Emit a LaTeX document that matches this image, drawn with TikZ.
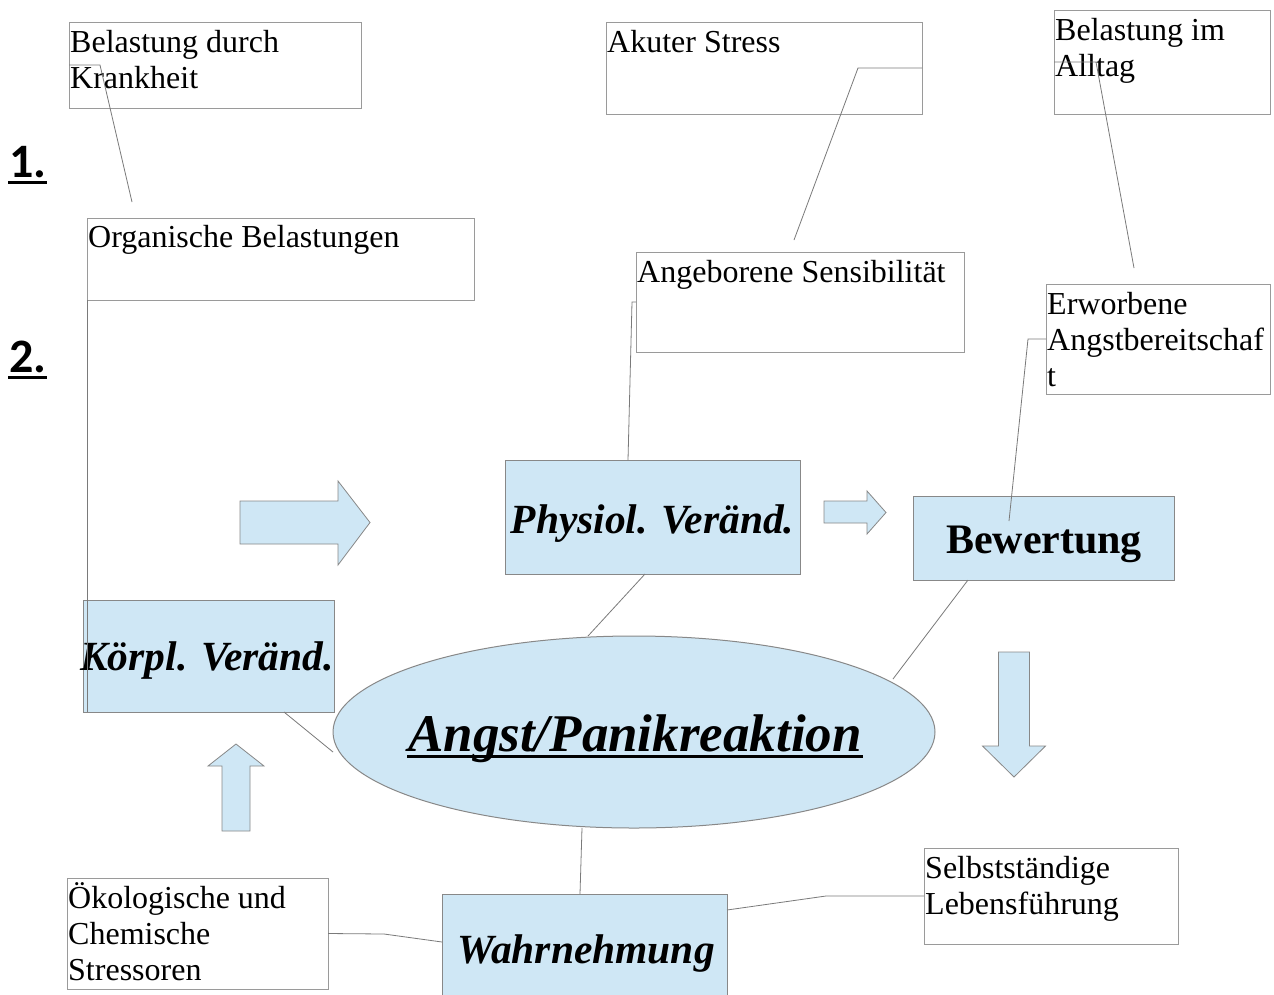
\documentclass[tikz,border=0pt]{standalone}
\usepackage{fontspec}
\setmainfont{Liberation Serif}
\newfontfamily\numfont{Carlito}
\usetikzlibrary{shapes.geometric}
\definecolor{boxfill}{HTML}{CFE7F5}
\definecolor{boxline}{HTML}{9A9A9A}
\definecolor{blueline}{HTML}{888888}
\definecolor{conline}{HTML}{7A7A7A}
\tikzset{
  wbox/.style={draw=boxline, line width=1pt, fill=white, rectangle, inner sep=0pt, outer sep=0pt, anchor=north west},
  bbox/.style={draw=blueline, line width=1pt, fill=boxfill, rectangle, inner sep=0pt, outer sep=0pt, anchor=north west},
  bell/.style={draw=blueline, line width=1pt, fill=boxfill, ellipse, inner sep=0pt, outer sep=0pt},
  txt/.style={inner sep=0pt, anchor=base west, font=\fontsize{32}{36}\selectfont},
  btxt/.style={inner sep=0pt, anchor=base, font=\fontsize{41.5}{48}\selectfont\bfseries\itshape},
  bwtxt/.style={inner sep=0pt, anchor=base, font=\fontsize{42}{48}\selectfont\bfseries},
  bigtxt/.style={inner sep=0pt, anchor=base, font=\fontsize{53}{60}\selectfont\bfseries\itshape},
  numtxt/.style={inner sep=0pt, anchor=base west, font=\fontsize{48}{56}\selectfont\numfont\bfseries},
  con/.style={draw=conline, line width=0.8pt},
  blockarrow/.style={draw=blueline, line width=0.8pt, fill=boxfill, line join=miter},
  uline/.style={line width=3pt, black}
}
\begin{document}
\begin{tikzpicture}[x=1pt, y=-1pt]
\useasboundingbox (0,0) rectangle (1274,994);
\fill[white] (0,0) rectangle (1274,994);

% white boxes
\node[wbox, minimum width=292pt, minimum height=86pt]  (b1)     at (69,22)   {};
\node[wbox, minimum width=387pt, minimum height=82pt]  (org)    at (87,218)  {};
\node[wbox, minimum width=316pt, minimum height=92pt]  (akut)   at (606,22)  {};
\node[wbox, minimum width=216pt, minimum height=104pt] (alltag) at (1054,10) {};
\node[wbox, minimum width=328pt, minimum height=100pt] (angeb)  at (636,252) {};
\node[wbox, minimum width=224pt, minimum height=110pt] (erw)    at (1046,284) {};
\node[wbox, minimum width=261pt, minimum height=111pt] (oeko)   at (67,878)  {};
\node[wbox, minimum width=254pt, minimum height=96pt]  (selbst) at (924,848) {};

% blue boxes
\node[bbox, minimum width=295pt, minimum height=114pt] (phys)  at (505,460) {};
\node[bbox, minimum width=261pt, minimum height=84pt]  (bew)   at (913,496) {};
\node[bbox, minimum width=251pt, minimum height=112pt] (koerp) at (83,600)  {};
\node[bbox, minimum width=285pt, minimum height=110pt] (wahr)  at (442,894) {};
\node[bell, minimum width=602pt, minimum height=192pt] (angst) at (634,732) {};

% block arrows
\draw[blockarrow] (240,501) -- (338,501) -- (338,481) -- (370,522.5) -- (338,565) -- (338,544) -- (240,544) -- cycle;
\draw[blockarrow] (824,501) -- (867,501) -- (867,491) -- (886,512.5) -- (867,534) -- (867,523) -- (824,523) -- cycle;
\draw[blockarrow] (998.5,652) -- (1029.5,652) -- (1029.5,746) -- (1045.5,746) -- (1014,777) -- (982.5,746) -- (998.5,746) -- cycle;
\draw[blockarrow] (236,744) -- (264,766) -- (250,766) -- (250,831) -- (222,831) -- (222,766) -- (208,766) -- cycle;

% texts in white boxes
\node[txt] (b1a) at (70,52) {Belastung durch};
\node[txt] (b1b) at (70,88) {Krankheit};
\node[txt] (orga) at (88,247) {Organische Belastungen};
\node[txt] (akuta) at (607,52) {Akuter Stress};
\node[txt] (alla) at (1055,40) {Belastung im};
\node[txt] (allb) at (1055,76) {Alltag};
\node[txt] (angea) at (637,282) {Angeborene Sensibilität};
\node[txt] (erwa) at (1047,314) {Erworbene};
\node[txt] (erwb) at (1047,350) {Angstbereitschaf};
\node[txt] (erwc) at (1047,386) {t};
\node[txt] (oekoa) at (68,908) {Ökologische und};
\node[txt] (oekob) at (68,944) {Chemische};
\node[txt] (oekoc) at (68,980) {Stressoren};
\node[txt] (selba) at (925,878) {Selbstständige};
\node[txt] (selbb) at (925,914) {Lebensführung};

% texts in blue shapes
\node[btxt] (physt) at (652.5,533) {Physiol. Veränd.};
\node[btxt] (koerpt) at (207,670) {Körpl. Veränd.};
\node[bwtxt] (bewt) at (1044,553) {Bewertung};
\node[btxt] (wahrt) at (586,963) {Wahrnehmung};
\node[bigtxt] (angstt) at (635,751) {Angst/Panikreaktion};
\draw[uline] (407,756.5) -- (863,756.5);

% numbering
\node[numtxt] (n1) at (9,177) {1.};
\node[numtxt] (n2) at (9,372) {2.};
\draw[uline] (8,182.5) -- (47,182.5);
\draw[uline] (8,377.5) -- (47,377.5);

% connector points
\coordinate (c1a) at (100,65);
\coordinate (c1b) at (132,202);
\coordinate (c2) at (87,712);
\coordinate (c3a) at (858,68);
\coordinate (c3b) at (794,240);
\coordinate (c4a) at (1096,62);
\coordinate (c4b) at (1134,268);
\coordinate (c5a) at (632,302);
\coordinate (c5b) at (628,460);
\coordinate (c6a) at (1028,339);
\coordinate (c6b) at (1009,521);
\coordinate (c7a) at (645,574);
\coordinate (c7b) at (588,636);
\coordinate (c8a) at (968,580);
\coordinate (c8b) at (893,679);
\coordinate (c9a) at (284,712);
\coordinate (c9b) at (333,752);
\coordinate (c10a) at (582,828);
\coordinate (c10b) at (580,894);
\coordinate (c11a) at (384,934);
\coordinate (c11b) at (442,942);
\coordinate (c12a) at (727,910);
\coordinate (c12b) at (826,896);

% connectors
\draw[con] (b1.west) -- (c1a) -- (c1b);
\draw[con] (org.south west) -- (c2);
\draw[con] (akut.east) -- (c3a) -- (c3b);
\draw[con] (alltag.west) -- (c4a) -- (c4b);
\draw[con] (angeb.west) -- (c5a) -- (c5b);
\draw[con] (erw.west) -- (c6a) -- (c6b);
\draw[con] (c7a) -- (c7b);
\draw[con] (c8a) -- (c8b);
\draw[con] (c9a) -- (c9b);
\draw[con] (c10a) -- (c10b);
\draw[con] (oeko.east) -- (c11a) -- (c11b);
\draw[con] (c12a) -- (c12b) -- (selbst.west);
\end{tikzpicture}
\end{document}
